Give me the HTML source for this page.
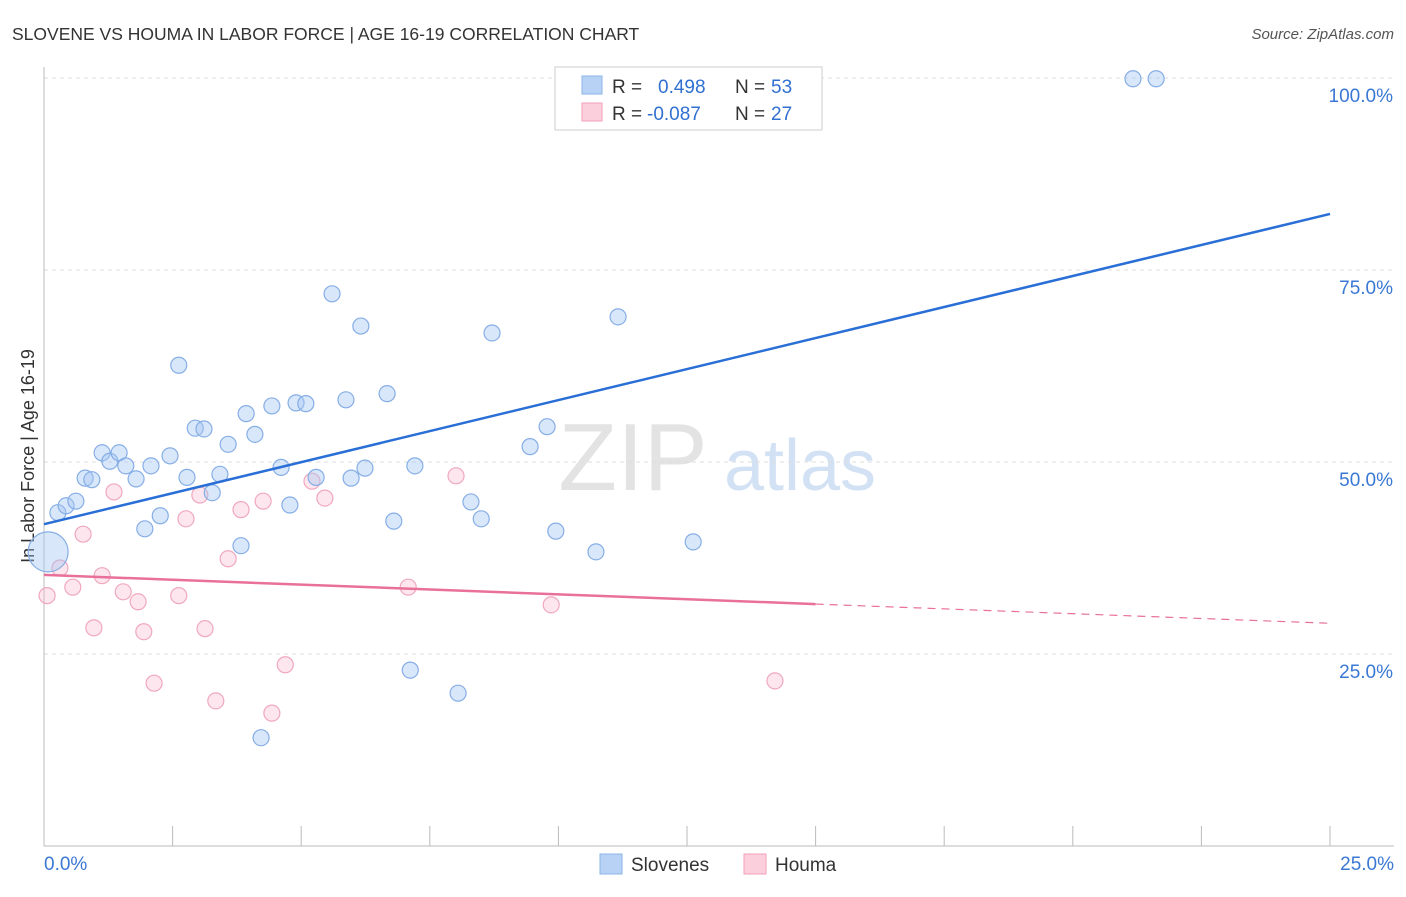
<!DOCTYPE html>
<html><head><meta charset="utf-8"><style>
body{margin:0;background:#fff;font-family:"Liberation Sans",sans-serif;}
svg text{font-family:"Liberation Sans",sans-serif;}
</style></head><body>
<svg width="1406" height="892" xmlns="http://www.w3.org/2000/svg" id="chart">
<text x="12" y="40" font-size="17.5" fill="#333">SLOVENE VS HOUMA IN LABOR FORCE | AGE 16-19 CORRELATION CHART</text>
<text x="1394" y="39" font-size="15" fill="#555" text-anchor="end" font-style="italic">Source: ZipAtlas.com</text>
<text transform="translate(34,456) rotate(-90)" font-size="18" fill="#333" text-anchor="middle">In Labor Force | Age 16-19</text>
<g><text x="633" y="490" font-size="96" fill="#ddd" font-family="Liberation Serif" text-anchor="middle" opacity="0.8">ZIP</text><text x="800" y="490" font-size="72" fill="#c8daf2" text-anchor="middle" opacity="0.8">atlas</text></g>
<g id="grid"></g><g id="axes"></g><g id="marks"></g>
<g>
<rect x="555" y="67" width="267" height="63" fill="#fff" stroke="#ccc"/>
<rect x="582" y="76" width="20" height="18" fill="#b8d2f5" stroke="#8ab4e8"/>
<text x="612" y="93" font-size="19" fill="#333">R =</text><text x="658" y="93" font-size="19" fill="#3070d0">0.498</text>
<text x="735" y="93" font-size="19" fill="#333">N =</text><text x="771" y="93" font-size="19" fill="#3070d0">53</text>
<rect x="582" y="103" width="20" height="18" fill="#fbd0dc" stroke="#f0a0b8"/>
<text x="612" y="120" font-size="19" fill="#333">R =</text><text x="647" y="120" font-size="19" fill="#3070d0">-0.087</text>
<text x="735" y="120" font-size="19" fill="#333">N =</text><text x="771" y="120" font-size="19" fill="#3070d0">27</text>
</g>
<g>
<rect x="600" y="854" width="22" height="20" fill="#b8d2f5" stroke="#8ab4e8"/>
<text x="631" y="871" font-size="19" fill="#333">Slovenes</text>
<rect x="744" y="854" width="22" height="20" fill="#fbd0dc" stroke="#f0a0b8"/>
<text x="775" y="871" font-size="19" fill="#333">Houma</text>
</g>
</svg>
<script>
const blueX=[0.08,0.27,0.43,0.62,0.80,0.93,1.13,1.28,1.46,1.59,1.79,1.96,2.08,2.26,2.45,2.62,2.78,2.94,3.11,3.27,3.42,3.58,3.83,3.93,4.10,4.22,4.43,4.61,4.78,4.90,5.09,5.29,5.60,5.87,5.97,6.16,6.24,6.67,6.80,7.12,7.21,8.05,8.30,8.50,8.71,9.45,9.78,9.95,10.73,11.16,12.62,21.17,21.62];
const blueY=[38.3,43.4,44.3,44.9,47.9,47.7,51.2,50.1,51.2,49.5,47.8,41.3,49.5,43.0,50.8,62.6,48.0,54.4,54.3,46.0,48.4,52.3,39.1,56.3,53.6,14.1,57.3,49.3,44.4,57.7,57.6,48.0,71.9,58.1,47.9,67.7,49.2,58.9,42.3,22.9,49.5,19.9,44.8,42.6,66.8,52.0,54.6,41.0,38.3,68.9,39.6,99.9,99.9];
const pinkX=[0.06,0.31,0.56,0.76,0.97,1.13,1.36,1.54,1.83,1.94,2.14,2.62,2.76,3.03,3.13,3.34,3.58,3.83,4.26,4.43,4.69,5.21,5.46,7.08,8.01,9.86,14.21];
const pinkY=[32.6,36.2,33.7,40.6,28.4,35.2,46.1,33.1,31.8,27.9,21.2,32.6,42.6,45.7,28.3,18.9,37.4,43.8,44.9,17.3,23.6,47.5,45.3,33.7,48.2,31.4,21.5];
const yTicks=[25,50,75,100];
const yTickLabels=["25.0%","50.0%","75.0%","100.0%"];
const blueTrend=[41.9,82.3];
const pinkTrend=[35.3,31.5,29.0];
const NS="http://www.w3.org/2000/svg";
const X=v=>44+v/25*1286, Y=v=>846-v/100*768;
function mk(p,t,a){const e=document.createElementNS(NS,t);for(const k in a)e.setAttribute(k,a[k]);document.getElementById(p).appendChild(e);return e;}
yTicks.forEach((t,i)=>{
 const l=mk('grid','line',{x1:44,x2:1394,y1:Y(t),y2:Y(t),stroke:'#ddd','stroke-dasharray':'4,4'});
 
 
 const tx=mk('grid','text',{x:1393,y:Y(t)+24,'font-size':19,fill:'#3a78d4','text-anchor':'end'});
 tx.textContent=yTickLabels[i];
 
 
});
let a=mk('axes','line',{x1:44,x2:44,y1:67,y2:846,stroke:'#bbb'});


a=mk('axes','line',{x1:44,x2:1394,y1:846,y2:846,stroke:'#bbb'});


for(let i=0;i<=10;i++){const t=mk('axes','line',{x1:X(i*2.5),x2:X(i*2.5),y1:826,y2:846,stroke:'#bbb'});
 
 }
let xl=mk('axes','text',{x:44,y:870,'font-size':19,fill:'#3a78d4'});xl.textContent='0.0%';


xl=mk('axes','text',{x:1394,y:870,'font-size':19,fill:'#3a78d4','text-anchor':'end'});xl.textContent='25.0%';


pinkX.forEach((v,i)=>{const c=mk('marks','circle',{cx:X(v),cy:Y(pinkY[i]),r:8,fill:'rgba(248,180,200,0.33)',stroke:'#f0a8be','stroke-width':1.2});
 
 });
blueX.forEach((v,i)=>{const c=mk('marks','circle',{cx:X(v),cy:Y(blueY[i]),r:i===0?20:8,fill:'rgba(165,198,242,0.42)',stroke:'#86aee6','stroke-width':1.2});
 
 });
let ln=mk('marks','line',{x1:X(0),y1:Y(blueTrend[0]),x2:X(25),y2:Y(blueTrend[1]),stroke:'#2a6fd6','stroke-width':2.5});


ln=mk('marks','line',{x1:X(0),y1:Y(pinkTrend[0]),x2:X(15),y2:Y(pinkTrend[1]),stroke:'#e8709a','stroke-width':2.5});


ln=mk('marks','line',{x1:X(15),y1:Y(pinkTrend[1]),x2:X(25),y2:Y(pinkTrend[2]),stroke:'#e8709a','stroke-width':1.2,'stroke-dasharray':'8,6'});


</script>
</body></html>
